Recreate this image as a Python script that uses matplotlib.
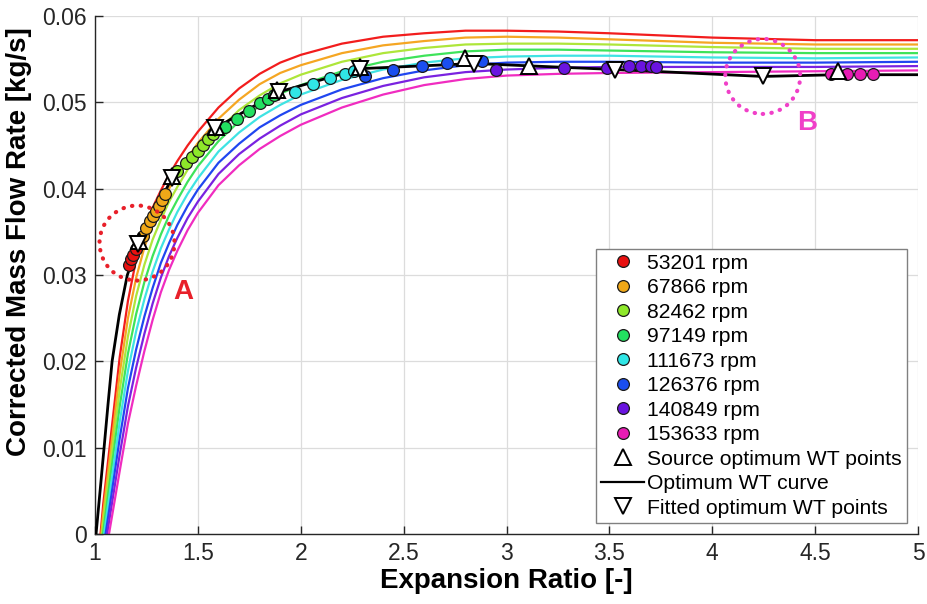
import matplotlib
matplotlib.use('Agg')
import numpy as np
from matplotlib import pyplot as plt
from matplotlib.patches import Ellipse

plt.rcParams['font.family'] = ['Liberation Sans', 'DejaVu Sans']

# expansion ratio grid used for the constant-speed lines
er_grid = [1.00, 1.04, 1.08, 1.12, 1.16, 1.20, 1.24, 1.28, 1.32, 1.36, 1.40, 1.45, 1.50,
           1.60, 1.70, 1.80, 1.90, 2.00, 2.20, 2.40, 2.60, 2.80, 3.00, 3.25, 3.50, 4.00,
           4.50, 5.00]

# constant-speed lines, corrected mass flow in 1e-4 kg/s (one row per speed)
speed_lines = [
    [-70, 35, 120, 205, 270, 318, 352, 378, 398, 416, 432, 450, 466, 494, 516, 533, 546, 555, 568, 576, 580, 583, 583, 582, 580, 575, 572, 572],
    [-74, 24, 105, 186, 250, 297, 332, 359, 381, 400, 417, 436, 453, 481, 503, 521, 534, 543, 557, 566, 571, 575, 576, 575, 573, 569, 567, 567],
    [-77, 14, 91, 167, 229, 276, 312, 341, 364, 385, 402, 422, 439, 468, 491, 508, 522, 532, 547, 557, 563, 567, 568, 568, 567, 564, 562, 562],
    [-81, 3, 76, 148, 209, 255, 292, 322, 347, 369, 387, 408, 426, 455, 478, 496, 510, 520, 536, 547, 554, 559, 561, 561, 560, 558, 557, 557],
    [-84, -7, 61, 130, 189, 235, 272, 304, 331, 353, 373, 394, 412, 443, 465, 483, 497, 509, 526, 538, 546, 551, 553, 554, 554, 552, 551, 552],
    [-88, -18, 46, 111, 169, 214, 252, 285, 314, 337, 358, 380, 399, 430, 452, 471, 485, 497, 515, 528, 537, 543, 546, 547, 547, 546, 546, 547],
    [-91, -28, 32, 92, 148, 193, 232, 267, 297, 322, 343, 366, 385, 417, 440, 458, 473, 486, 505, 519, 529, 535, 538, 540, 541, 541, 541, 542],
    [-95, -39, 17, 73, 128, 172, 212, 248, 280, 306, 328, 352, 372, 404, 427, 446, 461, 474, 494, 509, 520, 527, 531, 533, 534, 535, 536, 537],
]

speed_labels = ['53201 rpm', '67866 rpm', '82462 rpm', '97149 rpm',
                '111673 rpm', '126376 rpm', '140849 rpm', '153633 rpm']
line_colors = ['#f21d1d', '#f5a623', '#aee63a', '#3ee35a', '#3fe3e3', '#2046f0', '#7a22e0', '#f02cc0']
dot_colors = ['#e81010', '#f0a818', '#8ee82a', '#22e060', '#30e6e6', '#1a4ef0', '#6a14e0', '#e81cb4']

# measured points for each speed
pts_er = [
    [1.165, 1.175, 1.185, 1.200],
    [1.235, 1.250, 1.265, 1.280, 1.295, 1.310, 1.325, 1.340],
    [1.400, 1.440, 1.470, 1.500, 1.525, 1.550, 1.575],
    [1.630, 1.690, 1.750, 1.800, 1.840, 1.870],
    [1.970, 2.060, 2.140, 2.215, 2.260],
    [2.310, 2.450, 2.590, 2.710, 2.880],
    [2.950, 3.280, 3.490, 3.595, 3.655, 3.700, 3.725],
    [4.575, 4.655, 4.720, 4.780],
]
pts_mfr = [
    [0.0312, 0.0318, 0.0323, 0.0330],
    [0.0345, 0.0355, 0.0362, 0.0368, 0.0374, 0.0380, 0.0387, 0.0394],
    [0.0420, 0.0430, 0.0437, 0.0444, 0.0451, 0.0457, 0.0463],
    [0.0472, 0.0481, 0.0490, 0.0499, 0.0504, 0.0508],
    [0.0512, 0.0521, 0.0528, 0.0533, 0.0536],
    [0.0530, 0.0537, 0.0542, 0.0545, 0.0548],
    [0.0538, 0.0540, 0.0540, 0.0542, 0.0542, 0.0542, 0.0541],
    [0.0533, 0.0533, 0.0533, 0.0533],
]

# optimum wheel-tip (WT) curve
opt_er = [1.000, 1.005, 1.025, 1.044, 1.063, 1.083, 1.118, 1.157, 1.211, 1.373, 1.584, 1.892, 2.290, 2.844, 3.527, 4.244, 4.610, 5.000]
opt_mfr = [-0.0013, 0.0, 0.0051, 0.0100, 0.0150, 0.0200, 0.0254, 0.0300, 0.0336, 0.0412, 0.0470, 0.0512, 0.0539, 0.0545, 0.0538, 0.0530, 0.0532, 0.0532]

src_er = [1.215, 1.375, 1.590, 1.885, 2.290, 2.800, 3.110, 4.610]
src_mfr = [0.0339, 0.0415, 0.0472, 0.0514, 0.0541, 0.0551, 0.0542, 0.0536]

fit_er = [1.211, 1.373, 1.584, 1.892, 2.290, 2.844, 3.527, 4.244]
fit_mfr = [0.0336, 0.0412, 0.0470, 0.0512, 0.0539, 0.0544, 0.0537, 0.0530]

fig = plt.figure(figsize=(9.28, 6.04), dpi=100)
ax = fig.add_axes([0.1024, 0.1159, 0.8869, 0.8576])

for row, col in zip(speed_lines, line_colors):
    ax.plot(er_grid, np.array(row) * 1e-4, color=col, lw=1.6, zorder=2)

ax.plot(opt_er, opt_mfr, color='black', lw=2.0, zorder=3)

dot_handles = []
for xs, ys, col, lab in zip(pts_er, pts_mfr, dot_colors, speed_labels):
    h, = ax.plot(xs, ys, 'o', ms=8.5, mfc=col, mec='#1a1a1a', mew=0.9, zorder=4, label=lab)
    dot_handles.append(h)

h_src, = ax.plot(src_er, src_mfr, '^', ms=12, mfc='white', mec='black', mew=1.4, zorder=5,
                 label='Source optimum WT points')
h_opt, = ax.plot([], [], color='black', lw=1.6, label='Optimum WT curve')
h_fit, = ax.plot(fit_er, fit_mfr, 'v', ms=12, mfc='white', mec='black', mew=1.4, zorder=6,
                 label='Fitted optimum WT points')

# highlighted regions A and B
for (cx, cy), col in [((1.204, 0.0337), '#e8202a'), ((4.245, 0.0530), '#f040c8')]:
    circ = Ellipse((cx, cy), width=0.3645, height=0.00869, fill=False, edgecolor=col,
                   lw=3.0, linestyle=(0, (0.1, 2.0)), zorder=7)
    circ.set_capstyle('round')
    ax.add_patch(circ)
ax.text(1.428, 0.0280, 'A', color='#e8202a', fontsize=20, fontweight='bold', ha='center', va='center')
ax.text(4.463, 0.0476, 'B', color='#f040c8', fontsize=20, fontweight='bold', ha='center', va='center')

ax.set_xlim(1, 5)
ax.set_ylim(0, 0.06)
ax.set_xticks([1, 1.5, 2, 2.5, 3, 3.5, 4, 4.5, 5])
ax.set_xticklabels(['1', '1.5', '2', '2.5', '3', '3.5', '4', '4.5', '5'])
ax.set_yticks([0, 0.01, 0.02, 0.03, 0.04, 0.05, 0.06])
ax.set_yticklabels(['0', '0.01', '0.02', '0.03', '0.04', '0.05', '0.06'])
ax.grid(True, color='#dcdcdc', lw=0.9)
ax.set_axisbelow(True)
for side in ('top', 'right'):
    ax.spines[side].set_visible(False)
for side in ('left', 'bottom'):
    ax.spines[side].set_color('#262626')
    ax.spines[side].set_linewidth(1.0)
ax.tick_params(direction='in', length=6, width=1.0, color='#262626', labelsize=16.5,
               labelcolor='#262626', pad=6)

ax.set_xlabel('Expansion Ratio [-]', fontsize=20, fontweight='bold', labelpad=2)
ax.set_ylabel('Corrected Mass Flow Rate [kg/s]', fontsize=20, fontweight='bold', labelpad=4)
ax.yaxis.set_label_coords(-0.076, 0.565)

leg = ax.legend(handles=dot_handles + [h_src, h_opt, h_fit], loc='lower right',
                bbox_to_anchor=(0.9866, 0.0212), borderaxespad=0, fontsize=15.2,
                fancybox=False, framealpha=1, edgecolor='#808080', labelspacing=0.26,
                handlelength=2.04, handletextpad=0.14, borderpad=0.25)
leg.get_frame().set_linewidth(1.0)

fig.savefig('out.png', dpi=100)
